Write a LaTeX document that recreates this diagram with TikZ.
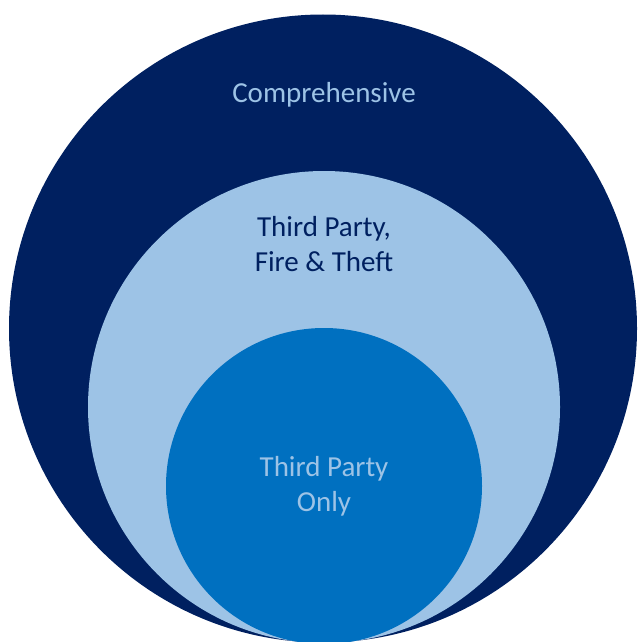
\documentclass[tikz,border=0pt]{standalone}
\usepackage{fontspec}
\setmainfont{Carlito}
\usepackage{tikz}
\usepackage{xcolor}

\definecolor{navy}{HTML}{002060}
\definecolor{paleblue}{HTML}{9DC3E6}
\definecolor{midblue}{HTML}{0070C0}

\begin{document}
\begin{tikzpicture}[x=1pt,y=-1pt,
  disc/.style={circle,inner sep=0pt,draw=none},
  tag/.style={anchor=base,align=center,inner sep=0pt,font=\fontsize{29}{35}\selectfont}]
\useasboundingbox (0,0) rectangle (638,642);

% Nested cover levels
\node[disc,fill=navy,minimum size=628pt] (comp) at (323,328.5) {};
\node[disc,fill=paleblue,minimum size=472pt] (tpft) at (324,407) {};
\node[disc,fill=midblue,minimum size=316pt] (tpo) at (324,486) {};

% Labels (base anchor sits on the last line)
\node[tag,text=paleblue] (complabel) at (324,102) {Comprehensive};
\node[tag,text=navy] (tpftlabel) at (324,271) {Third Party,\\Fire \& Theft};
\node[tag,text=paleblue] (tpolabel) at (324,511) {Third Party\\Only};
\end{tikzpicture}
\end{document}
